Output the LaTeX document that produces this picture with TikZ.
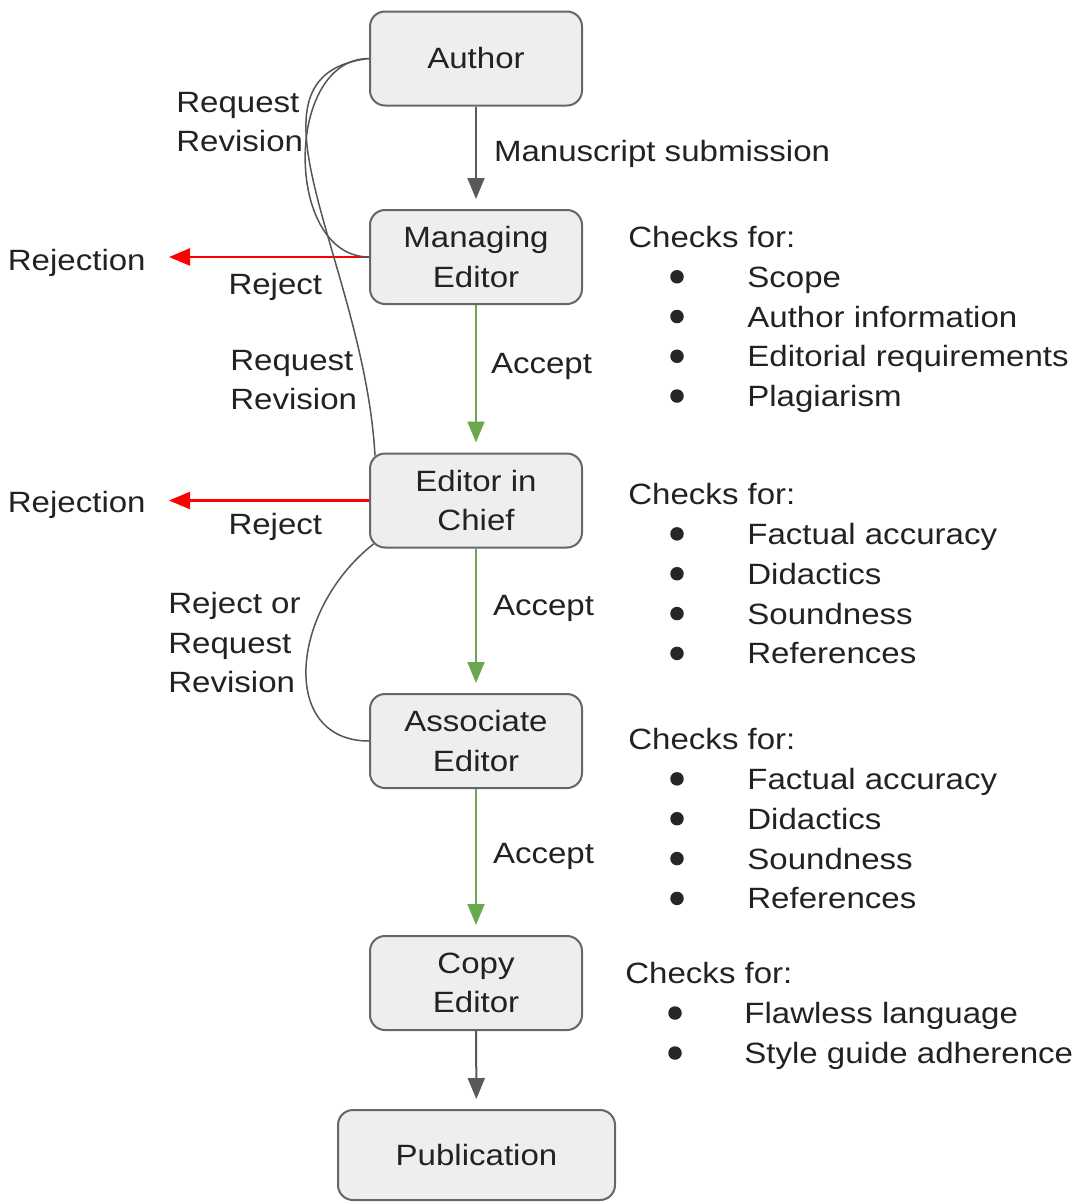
\documentclass[tikz,border=0pt]{standalone}
\usepackage{fontspec}
\setmainfont{Liberation Sans}[FakeStretch=1.126]
\usetikzlibrary{arrows.meta}
\definecolor{boxfill}{HTML}{EEEEEE}
\definecolor{boxline}{HTML}{666666}
\definecolor{txt}{HTML}{222222}
\definecolor{arrowgray}{HTML}{595959}
\definecolor{curvegray}{HTML}{555555}
\definecolor{acceptgreen}{HTML}{6AA84F}
\definecolor{rejectred}{HTML}{FF0000}

\begin{document}
\begin{tikzpicture}[>={Triangle[length=0.42cm,width=0.34cm]},
  every node/.style={font=\fontsize{16.7}{22.2}\selectfont,text=txt},
  stage/.style={draw=boxline,fill=boxfill,line width=0.04cm,rounded corners=0.3cm,
    minimum width=4.24cm,minimum height=1.88cm,align=center,inner sep=0pt},
  word/.style={inner sep=0pt,text height=0.42cm,text depth=0cm},
  lines/.style={inner sep=0pt,align=left},
  flow/.style={->,line width=0.04cm,arrowgray,shorten >=0.2cm},
  accept/.style={->,line width=0.04cm,acceptgreen,shorten >=0.2cm},
  reject/.style={->,line width=0.05cm,rejectred,shorten >=0.46cm},
  backline/.style={line width=0.03cm,curvegray},
  bulletdot/.style={circle,fill=black!85,inner sep=0pt,minimum size=0.27cm}]
  \useasboundingbox (0,0) rectangle (21.54,-24.04);
  %
  % Stages
  \node[stage] (author) at (9.52,-1.17) {Author};
  \node[stage] (managing) at (9.52,-5.14) {Managing\\Editor};
  \node[stage] (chief) at (9.52,-10.01) {Editor in\\Chief};
  \node[stage] (associate) at (9.52,-14.82) {Associate\\Editor};
  \node[stage] (copyed) at (9.52,-19.66) {Copy\\Editor};
  \node[stage,minimum width=5.54cm,minimum height=1.8cm] (publication)
    at (9.53,-23.1) {Publication};
  %
  % Main flow
  \draw[flow] (author) -- node[word,right=0.34cm,pos=0.43] (submission)
    {Manuscript submission} (managing);
  \draw[accept] (managing) -- node[word,right=0.28cm,pos=0.395] (accept1) {Accept} (chief);
  \draw[accept] (chief) -- node[word,right=0.32cm,pos=0.39] (accept2) {Accept} (associate);
  \draw[accept] (associate) -- node[word,right=0.32cm,pos=0.44] (accept3) {Accept} (copyed);
  \draw[flow] (copyed) -- (publication);
  %
  % Rejections
  \node[word,anchor=east] (rejection1) at (2.92,-5.2) {Rejection};
  \node[word,anchor=east] (rejection2) at (2.92,-10.04) {Rejection};
  \draw[reject] (managing.west) -- node[word,pos=0.42,below=0.3cm] (reject1) {Reject}
    (rejection1.east |- managing.west);
  \draw[reject] (chief.west) -- node[word,pos=0.42,below=0.24cm] (reject2) {Reject}
    (rejection2.east |- chief.west);
  %
  % Revision loops
  \draw[backline] (author.west) to[out=180,in=180,looseness=1.1] (managing.west);
  \draw[backline] (author.west) .. controls +(-2.8,-0.33) and +(-0.22,3.9)
    .. ([shift={(0.12,-0.06)}]chief.north west);
  \draw[backline] ([shift={(0.09,0.09)}]chief.south west) .. controls +(-1.68,-1.32)
    and +(-1.8,0) .. (associate.west);
  \node[lines,anchor=west] (revise1) at (3.52,-2.45) {Request\\Revision};
  \node[lines,anchor=west] (revise2) at (4.6,-7.6) {Request\\Revision};
  \node[lines,anchor=west] (revise3) at (3.36,-12.85) {Reject or\\Request\\Revision};
  %
  % Checks
  \node[word,anchor=west] (me-head) at (12.56,-4.74) {Checks for:};
  \foreach \txt [count=\i] in {Scope,Author information,Editorial requirements,Plagiarism}{
    \node[bulletdot] (me-dot\i) at (13.54,-4.74-0.795*\i) {};
    \node[word,anchor=west] (me-item\i) at (14.94,-4.74-0.795*\i) {\txt};
  }
  \node[word,anchor=west] (ec-head) at (12.56,-9.88) {Checks for:};
  \foreach \txt [count=\i] in {Factual accuracy,Didactics,Soundness,References}{
    \node[bulletdot] (ec-dot\i) at (13.54,-9.88-0.797*\i) {};
    \node[word,anchor=west] (ec-item\i) at (14.94,-9.88-0.797*\i) {\txt};
  }
  \node[word,anchor=west] (ae-head) at (12.56,-14.78) {Checks for:};
  \foreach \txt [count=\i] in {Factual accuracy,Didactics,Soundness,References}{
    \node[bulletdot] (ae-dot\i) at (13.54,-14.78-0.797*\i) {};
    \node[word,anchor=west] (ae-item\i) at (14.94,-14.78-0.797*\i) {\txt};
  }
  \node[word,anchor=west] (ce-head) at (12.5,-19.46) {Checks for:};
  \foreach \txt [count=\i] in {Flawless language,Style guide adherence}{
    \node[bulletdot] (ce-dot\i) at (13.5,-19.46-0.8*\i) {};
    \node[word,anchor=west] (ce-item\i) at (14.88,-19.46-0.8*\i) {\txt};
  }
  %
\end{tikzpicture}
\end{document}
